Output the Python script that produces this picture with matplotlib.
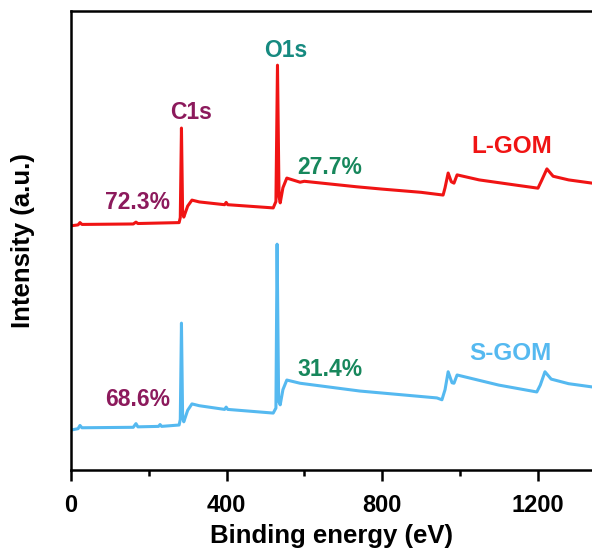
import numpy as np
import matplotlib
matplotlib.use('Agg')
import matplotlib.pyplot as plt

plt.rcParams['font.family'] = ['Liberation Sans', 'DejaVu Sans']
plt.rcParams['font.weight'] = 'bold'

# binding energy (eV) / intensity (a.u., offset traces)
energy_l = [0, 18, 23, 28, 160, 167, 172, 278, 281, 284, 287, 290, 300, 311, 330, 395, 399, 403,
            520, 527, 531, 535, 538, 545, 555, 589, 600, 735, 800, 900, 957, 962, 970, 978, 985,
            993, 1050, 1150, 1201, 1210, 1224, 1240, 1280, 1340]
inten_l = [53.2, 53.4, 53.9, 53.5, 53.6, 54.0, 53.7, 53.9, 55.0, 74.5, 56.0, 55.1, 57.5, 58.8, 58.4,
           57.8, 58.3, 57.8, 57.1, 58.5, 88.2, 59.5, 58.2, 61.5, 63.6, 62.7, 62.9, 61.7, 61.2, 60.5,
           59.9, 61.5, 64.7, 62.8, 62.5, 64.3, 63.2, 62.0, 61.4, 63.0, 65.6, 64.0, 63.2, 62.5]

energy_s = [0, 18, 23, 28, 160, 167, 172, 225, 229, 233, 278, 281, 284, 287, 290, 300, 311, 330,
            395, 399, 403, 520, 527, 530, 534, 538, 545, 555, 589, 743, 941, 954, 962, 970, 980,
            985, 993, 1100, 1198, 1207, 1219, 1235, 1280, 1340]
inten_s = [8.7, 9.0, 9.7, 9.2, 9.3, 10.1, 9.4, 9.5, 9.9, 9.5, 9.8, 11.0, 32.0, 11.5, 10.5, 13.0,
           14.4, 14.0, 13.2, 13.7, 13.2, 12.4, 13.5, 49.2, 15.0, 14.2, 17.5, 19.6, 18.9, 17.2, 15.7,
           15.3, 17.5, 21.4, 19.0, 18.9, 20.7, 18.5, 17.0, 18.5, 21.4, 19.8, 18.8, 18.1]

red = '#f01414'
blue = '#55b9f0'
purple = '#8c1a5c'
teal = '#168a80'
green = '#17875c'

fig = plt.figure(figsize=(5.92, 5.56), dpi=100)
ax = fig.add_axes([0.12, 0.1547, 0.88, 0.8255])

ax.plot(energy_l, inten_l, color=red, lw=2.2)
ax.plot(energy_s, inten_s, color=blue, lw=2.2)

ax.set_xlim(0, 1340)
ax.set_ylim(0, 100)

# annotations
ax.text(309, 77.8, 'C1s', color=purple, fontsize=16.5, ha='center', va='center')
ax.text(553, 91.5, 'O1s', color=teal, fontsize=16.5, ha='center', va='center')
ax.text(172, 58.2, '72.3%', color=purple, fontsize=16.5, ha='center', va='center')
ax.text(666, 66.0, '27.7%', color=green, fontsize=16.5, ha='center', va='center')
ax.text(172, 15.3, '68.6%', color=purple, fontsize=16.5, ha='center', va='center')
ax.text(666, 21.8, '31.4%', color=green, fontsize=16.5, ha='center', va='center')
ax.text(1133, 70.5, 'L-GOM', color=red, fontsize=17.5, ha='center', va='center')
ax.text(1130, 25.3, 'S-GOM', color=blue, fontsize=17.5, ha='center', va='center')

ax.set_xticks([0, 400, 800, 1200])
ax.set_xticks([200, 600, 1000], minor=True)
ax.set_yticks([])
ax.tick_params(axis='x', which='major', length=8, width=1.8, direction='out', labelsize=17, pad=9)
ax.tick_params(axis='x', which='minor', length=4, width=1.8, direction='out')
for lbl in ax.get_xticklabels():
    lbl.set_fontweight('bold')

for s in ['left', 'bottom', 'top']:
    ax.spines[s].set_linewidth(1.8)
ax.spines['right'].set_visible(False)

ax.set_xlabel('Binding energy (eV)', fontsize=18.5, fontweight='bold', labelpad=5)
ax.set_ylabel('Intensity (a.u.)', fontsize=18.5, fontweight='bold', labelpad=26)

fig.savefig('out.png', dpi=100)
